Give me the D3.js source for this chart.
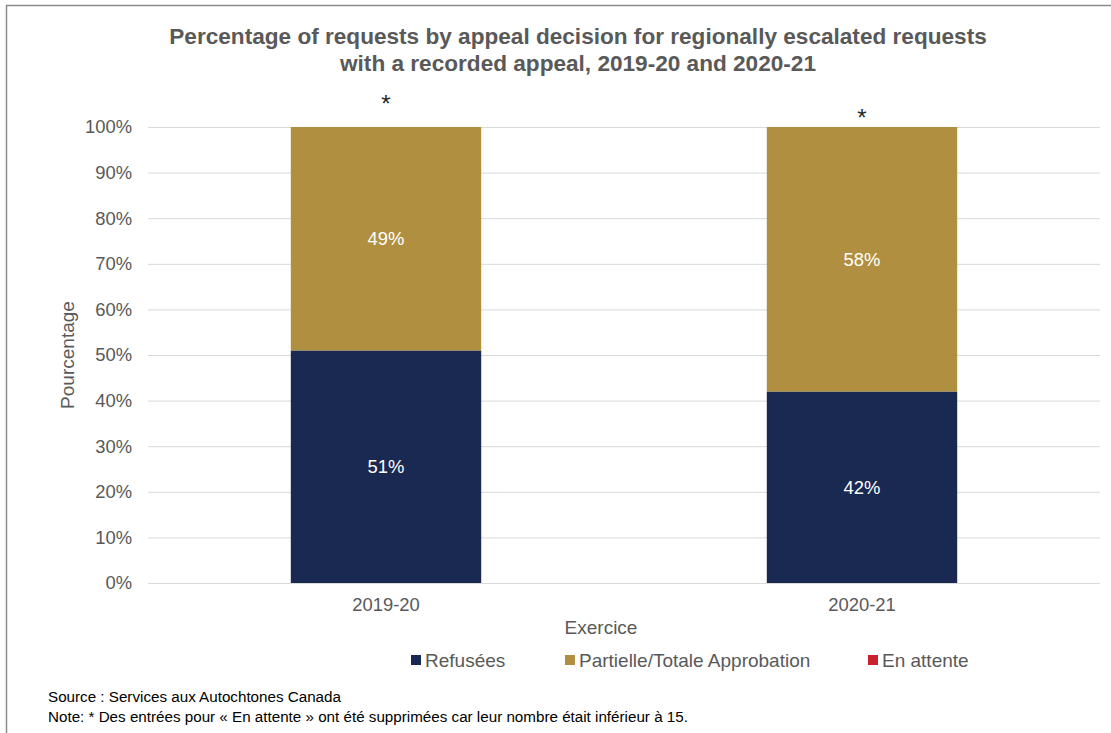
<!DOCTYPE html>
<html>
<head>
<meta charset="utf-8">
<script src="https://cdn.jsdelivr.net/npm/d3@7"></script>
<style>
  html, body { margin: 0; padding: 0; background: #fff; }
  svg { display: block; font-family: "Liberation Sans", Arial, sans-serif; }
</style>
</head>
<body>
<svg id="chart" width="1111" height="733"></svg>
<script>
// Fiscal years on the x axis
const years = ["2019-20", "2020-21"];
// Share of requests (%) per appeal decision
const refusees = [51, 42];
const approbation = [49, 58];
const enAttente = [0, 0];
// Series names and colours for the legend
const seriesNames = ["Refusées", "Partielle/Totale Approbation", "En attente"];
const seriesColors = ["#1a2951", "#b18f40", "#c8202f"];
// Y axis ticks
const yTicks = [0, 10, 20, 30, 40, 50, 60, 70, 80, 90, 100];
// Years whose pending counts were suppressed
const suppressed = ["2019-20", "2020-21"];

const svg = d3.select("#chart");
const textGray = "#595959";

// Frame lines along the top and left of the figure
svg.append("line").attr("x1", 6).attr("x2", 1111).attr("y1", 5.5).attr("y2", 5.5)
  .attr("stroke", "#8c8c8c").attr("stroke-width", 1.5);
svg.append("line").attr("x1", 6.5).attr("x2", 6.5).attr("y1", 5).attr("y2", 733)
  .attr("stroke", "#8c8c8c").attr("stroke-width", 1.5);

const plot = { left: 148, right: 1100, top: 127, bottom: 583 };

const x = d3.scaleBand().domain(years)
  .range([plot.left, plot.right]).paddingInner(0.6).paddingOuter(0.3);
const y = d3.scaleLinear().domain([0, 100]).range([plot.bottom, plot.top]);

// Title
const title = svg.append("text").attr("text-anchor", "middle")
  .attr("font-size", 22.6).attr("font-weight", "bold").attr("fill", textGray);
title.append("tspan").attr("x", 578).attr("y", 44)
  .text("Percentage of requests by appeal decision for regionally escalated requests");
title.append("tspan").attr("x", 578).attr("y", 71)
  .text("with a recorded appeal, 2019-20 and 2020-21");

// Gridlines and y tick labels
const yAxis = d3.axisLeft(y).tickValues(yTicks)
  .tickSize(-(plot.right - plot.left)).tickPadding(16)
  .tickFormat(d => d + "%");
const gy = svg.append("g").attr("transform", `translate(${plot.left},0)`).call(yAxis);
gy.select(".domain").remove();
gy.selectAll(".tick line").attr("stroke", "#d9d9d9").attr("stroke-width", 1);
gy.selectAll(".tick text").attr("font-size", 18.4).attr("fill", textGray)
  .attr("font-family", "Liberation Sans, Arial, sans-serif");

// Stacked bars
const rows = years.map((yr, i) => ({
  year: yr, "Refusées": refusees[i],
  "Partielle/Totale Approbation": approbation[i], "En attente": enAttente[i]
}));
const stack = d3.stack().keys(seriesNames)(rows);
const color = d3.scaleOrdinal().domain(seriesNames).range(seriesColors);

svg.append("g").selectAll("g").data(stack).join("g")
  .attr("fill", d => color(d.key))
  .selectAll("rect").data(d => d).join("rect")
  .attr("x", d => x(d.data.year))
  .attr("width", x.bandwidth())
  .attr("y", d => y(d[1]))
  .attr("height", d => y(d[0]) - y(d[1]));

// Value labels inside each segment
stack.forEach(layer => {
  svg.append("g").selectAll("text").data(layer.filter(d => d[1] - d[0] > 0)).join("text")
    .attr("x", d => x(d.data.year) + x.bandwidth() / 2)
    .attr("y", d => (y(d[0]) + y(d[1])) / 2)
    .attr("dy", "0.35em")
    .attr("text-anchor", "middle").attr("font-size", 18.4).attr("fill", "#ffffff")
    .text(d => (d[1] - d[0]) + "%");
});

// Asterisks flagging suppressed pending counts
const starOffsets = [24, 10];
svg.append("g").selectAll("text").data(suppressed).join("text")
  .attr("x", d => x(d) + x.bandwidth() / 2)
  .attr("y", (d, i) => y(100) - starOffsets[i] + 9)
  .attr("text-anchor", "middle").attr("font-size", 24).attr("fill", "#262626")
  .text("*");

// Baseline
svg.append("line").attr("x1", plot.left).attr("x2", plot.right)
  .attr("y1", y(0) + 0.5).attr("y2", y(0) + 0.5).attr("stroke", "#d9d9d9");

// X axis labels
const xAxis = d3.axisBottom(x).tickSize(0).tickPadding(15);
const gx = svg.append("g").attr("transform", `translate(0,${plot.bottom})`).call(xAxis);
gx.select(".domain").remove();
gx.selectAll(".tick text").attr("font-size", 18.4).attr("fill", textGray)
  .attr("font-family", "Liberation Sans, Arial, sans-serif");

// Axis titles
svg.append("text").attr("x", 601).attr("y", 634).attr("text-anchor", "middle")
  .attr("font-size", 19).attr("fill", textGray).text("Exercice");
svg.append("text").attr("transform", "translate(74,355) rotate(-90)")
  .attr("text-anchor", "middle").attr("font-size", 19).attr("fill", textGray)
  .text("Pourcentage");

// Legend
const legendX = [411, 565, 868];
const legend = svg.append("g").selectAll("g").data(seriesNames).join("g")
  .attr("transform", (d, i) => `translate(${legendX[i]},655)`);
legend.append("rect").attr("width", 10).attr("height", 10).attr("fill", d => color(d));
legend.append("text").attr("x", 14).attr("y", 5).attr("dy", "0.35em")
  .attr("font-size", 19).attr("fill", textGray).text(d => d);

// Footnotes
svg.append("text").attr("x", 48).attr("y", 702).attr("font-size", 15.2).attr("fill", "#000")
  .text("Source : Services aux Autochtones Canada");
svg.append("text").attr("x", 48).attr("y", 722).attr("font-size", 15.2).attr("fill", "#000")
  .text("Note: * Des entrées pour « En attente » ont été supprimées car leur nombre était inférieur à 15.");
</script>
</body>
</html>
